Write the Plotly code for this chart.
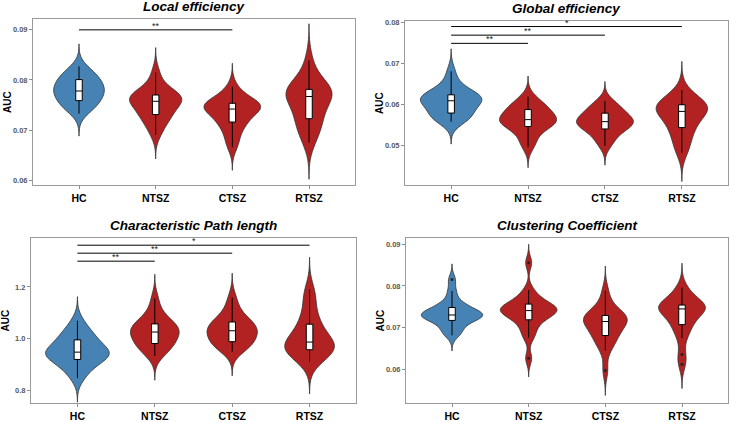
import numpy as np
import plotly.graph_objects as go
from plotly.subplots import make_subplots

BLUE = "#4682b4"
RED = "#b22222"
OUTLINE = "#333333"
GROUPS = ["HC", "NTSZ", "CTSZ", "RTSZ"]
GROUP_COLORS = {"HC": BLUE, "NTSZ": RED, "CTSZ": RED, "RTSZ": RED}

local_eff = {
    "HC": [0.0733, 0.0742, 0.0748, 0.0751, 0.0755, 0.0760, 0.0765, 0.0770, 0.0774, 0.0777, 0.0778,
           0.0782, 0.0786, 0.0790, 0.0795, 0.0800, 0.0803, 0.0806, 0.0812, 0.0818, 0.0827],
    "NTSZ": [0.0691, 0.0705, 0.0716, 0.0724, 0.0729, 0.0733, 0.0740, 0.0746, 0.0752, 0.0756,
             0.0759, 0.0761, 0.0764, 0.0767, 0.0769, 0.0771, 0.0775, 0.0782, 0.0795, 0.0816],
    "CTSZ": [0.0666, 0.0680, 0.0695, 0.0706, 0.0714, 0.0718, 0.0725, 0.0732, 0.0738, 0.0741,
             0.0743, 0.0746, 0.0748, 0.0750, 0.0752, 0.0755, 0.0758, 0.0762, 0.0772, 0.0787],
    "RTSZ": [0.0675, 0.0690, 0.0703, 0.0714, 0.0721, 0.0728, 0.0740, 0.0752, 0.0762, 0.0767,
             0.0770, 0.0773, 0.0776, 0.0779, 0.0782, 0.0786, 0.0795, 0.0810, 0.0839],
}
global_eff = {
    "HC": [0.0558, 0.0563, 0.0568, 0.0572, 0.0576, 0.0582, 0.0592, 0.0600, 0.0604, 0.0608,
           0.0610, 0.0613, 0.0616, 0.0619, 0.0622, 0.0625, 0.0630, 0.0640, 0.0655, 0.0681],
    "NTSZ": [0.0496, 0.0510, 0.0525, 0.0538, 0.0545, 0.0550, 0.0554, 0.0557, 0.0560, 0.0563,
             0.0566, 0.0570, 0.0576, 0.0583, 0.0589, 0.0592, 0.0598, 0.0607, 0.0619],
    "CTSZ": [0.0499, 0.0512, 0.0524, 0.0533, 0.0539, 0.0544, 0.0549, 0.0553, 0.0556, 0.0558,
             0.0560, 0.0564, 0.0569, 0.0575, 0.0580, 0.0586, 0.0592, 0.0600, 0.0609],
    "RTSZ": [0.0482, 0.0498, 0.0515, 0.0530, 0.0542, 0.0548, 0.0560, 0.0570, 0.0578, 0.0583,
             0.0586, 0.0590, 0.0594, 0.0597, 0.0600, 0.0603, 0.0608, 0.0618, 0.0635],
}
path_len = {
    "HC": [0.846, 0.870, 0.890, 0.905, 0.915, 0.922, 0.930, 0.936, 0.941, 0.945,
           0.949, 0.955, 0.962, 0.972, 0.990, 0.999, 1.008, 1.020, 1.040, 1.069],
    "NTSZ": [0.932, 0.950, 0.962, 0.972, 0.978, 0.988, 1.000, 1.010, 1.018, 1.025,
             1.030, 1.036, 1.044, 1.052, 1.058, 1.068, 1.085, 1.110, 1.155],
    "CTSZ": [0.949, 0.962, 0.972, 0.980, 0.985, 0.995, 1.005, 1.015, 1.024, 1.030,
             1.036, 1.042, 1.050, 1.058, 1.066, 1.075, 1.095, 1.120, 1.159],
    "RTSZ": [0.910, 0.925, 0.938, 0.948, 0.955, 0.960, 0.965, 0.970, 0.978, 0.986,
             0.995, 1.005, 1.020, 1.048, 1.058, 1.080, 1.120, 1.160, 1.190],
}
clustering = {
    "HC": [0.0682, 0.0690, 0.0698, 0.0708, 0.0715, 0.0720, 0.0724, 0.0727, 0.0729, 0.0730,
           0.0731, 0.0733, 0.0736, 0.0740, 0.0747, 0.0750, 0.0755, 0.0768, 0.0788, 0.0815],
    "NTSZ": [0.0627, 0.0676, 0.0690, 0.0705, 0.0715, 0.0723, 0.0728, 0.0733, 0.0737, 0.0740,
             0.0742, 0.0744, 0.0747, 0.0750, 0.0754, 0.0759, 0.0765, 0.0775, 0.0790, 0.0855],
    "CTSZ": [0.0598, 0.0646, 0.0660, 0.0672, 0.0680, 0.0686, 0.0694, 0.0703, 0.0710, 0.0715,
             0.0718, 0.0721, 0.0724, 0.0727, 0.0730, 0.0734, 0.0745, 0.0760, 0.0788],
    "RTSZ": [0.0613, 0.0636, 0.0675, 0.0692, 0.0706, 0.0712, 0.0722, 0.0733, 0.0740, 0.0745,
             0.0747, 0.0748, 0.0750, 0.0752, 0.0755, 0.0760, 0.0770, 0.0782, 0.0796],
}

# significance brackets: (from, to, height, label)
local_sig = [("HC", "CTSZ", 0.0900, "**")]
global_sig = [("HC", "NTSZ", 0.0749, "**"), ("HC", "CTSZ", 0.0769, "**"), ("HC", "RTSZ", 0.0790, "*")]
path_sig = [("HC", "NTSZ", 1.300, "**"), ("HC", "CTSZ", 1.331, "**"), ("HC", "RTSZ", 1.362, "*")]
clust_sig = []

PANELS = [
    ("Local efficiency", local_eff, local_sig, [0.059, 0.0922], [0.06, 0.07, 0.08, 0.09], ".2f"),
    ("Global efficiency", global_eff, global_sig, [0.0403, 0.0804], [0.05, 0.06, 0.07, 0.08], ".2f"),
    ("Characteristic Path length", path_len, path_sig, [0.749, 1.391], [0.8, 1.0, 1.2], ".1f"),
    ("Clustering Coefficient", clustering, clust_sig, [0.052, 0.0915], [0.06, 0.07, 0.08, 0.09], ".2f"),
]
# max violin width per group (category units), ggplot "area" scaling makes these differ
VIOLIN_WIDTHS = [
    [0.66, 0.68, 0.74, 0.60],
    [0.80, 0.74, 0.74, 0.67],
    [0.82, 0.63, 0.65, 0.64],
    [0.80, 0.74, 0.57, 0.61],
]

W, H = 730, 422
# panel boxes in pixels (left, right, top, bottom)
BOXES = [(33, 355, 19, 187), (405, 728, 21, 187), (31, 356, 240, 407), (406, 728, 240, 407)]

FONT = "Liberation Sans, Arial, sans-serif"
fig = make_subplots(rows=2, cols=2)


def kde_span(vals):
    # Silverman bandwidth like plotly, tails extended 3 bandwidths like ggplot's trim=FALSE
    v = np.asarray(vals)
    q1, q3 = np.percentile(v, [25, 75])
    bw = 1.059 * min(v.std(ddof=1), (q3 - q1) / 1.349) * len(v) ** -0.2
    return bw, [v.min() - 3 * bw, v.max() + 3 * bw]


for i, (title, data, sigs, yrange, ticks, fmt) in enumerate(PANELS):
    r, c = i // 2 + 1, i % 2 + 1
    for j, g in enumerate(GROUPS):
        bw, span = kde_span(data[g])
        fig.add_trace(go.Violin(
            x=[g] * len(data[g]), y=data[g], fillcolor=GROUP_COLORS[g], opacity=1,
            line=dict(color=OUTLINE, width=0.8), points=False, width=VIOLIN_WIDTHS[i][j],
            scalemode="width", bandwidth=bw, spanmode="manual", span=span,
            showlegend=False, hoverinfo="y",
        ), row=r, col=c)
        fig.add_trace(go.Box(
            x=[g] * len(data[g]), y=data[g], width=0.085, fillcolor="white",
            line=dict(color="black", width=1), whiskerwidth=0, boxpoints="outliers",
            marker=dict(color="#222222", size=3), showlegend=False,
        ), row=r, col=c)
    xref = "x" if i == 0 else f"x{i + 1}"
    yref = "y" if i == 0 else f"y{i + 1}"
    for a, b, lvl, lab in sigs:
        fig.add_trace(go.Scatter(
            x=[a, b], y=[lvl, lvl], mode="lines", line=dict(color="black", width=1),
            showlegend=False, hoverinfo="skip",
        ), row=r, col=c)
        mid = (GROUPS.index(a) + GROUPS.index(b)) / 2
        fig.add_annotation(x=mid, y=lvl, xref=xref, yref=yref, text=lab, showarrow=False,
                           xanchor="center", yanchor="bottom", yshift=-3,
                           font=dict(size=9, color="#222222", family=FONT))

    left, right, top, bottom = BOXES[i]
    fig.update_xaxes(
        domain=[left / W, right / W], range=[-0.6, 3.6], showline=True, mirror=True,
        linecolor="#9a9a9a", linewidth=1, ticks="outside", ticklen=3, tickcolor="#8c8c8c",
        showgrid=False, zeroline=False, categoryorder="array", categoryarray=GROUPS,
        tickfont=dict(size=10.5, color="black", family=FONT, weight="bold"), row=r, col=c,
    )
    fig.update_yaxes(
        domain=[1 - bottom / H, 1 - top / H], range=yrange, tickvals=ticks, tickformat=fmt,
        showline=True, mirror=True, linecolor="#9a9a9a", linewidth=1, ticks="outside",
        ticklen=3, tickcolor="#8c8c8c", showgrid=False, zeroline=False, automargin=False,
        tickfont=dict(size=7.5, color="#595959", family=FONT, weight="bold"), row=r, col=c,
    )
    fig.add_annotation(
        x=(left + right) / 2 / W, y=1 - (top - 12) / H, xref="paper", yref="paper",
        text=f"<b><i>{title}</i></b>", showarrow=False, xanchor="center", yanchor="middle",
        font=dict(size=13.5, color="black", family=FONT),
    )
    fig.add_annotation(
        x=(left - 26) / W, y=1 - (top + bottom) / 2 / H, xref="paper", yref="paper",
        text="<b>AUC</b>", textangle=-90, showarrow=False, xanchor="center", yanchor="middle",
        font=dict(size=10, color="black", family=FONT),
    )

fig.update_layout(
    width=W, height=H, margin=dict(l=0, r=0, t=0, b=0),
    plot_bgcolor="white", paper_bgcolor="white",
    violinmode="overlay", boxmode="overlay", font=dict(family=FONT),
)

# drop the browser's default 8px body margin so the figure fills the window exactly
fig.write_html("out.html", config={"displayModeBar": False},
               post_script="document.body.style.margin = '0';")
